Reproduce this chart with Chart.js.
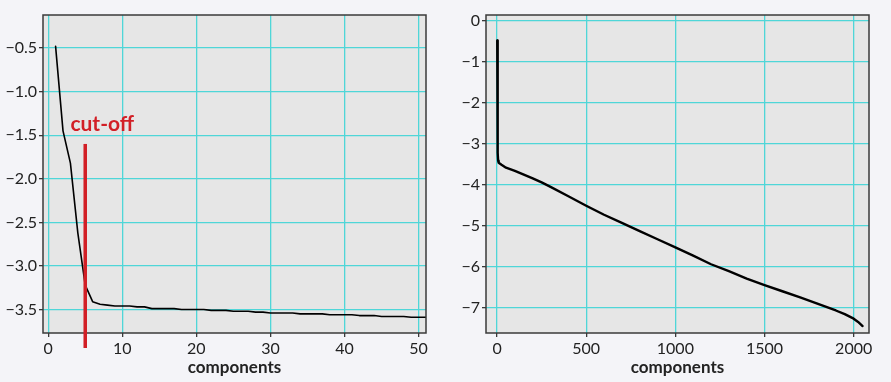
<!DOCTYPE html>
<html>
<head>
<meta charset="utf-8">
<script src="https://cdn.jsdelivr.net/npm/chart.js@4"></script>
<style>
    body { margin: 0; background: #f4f4f8; }
    .box { position: absolute; top: 0; height: 382px; }
</style>
</head>
<body>
<div class="box" style="left:0;width:445px"><canvas id="leftChart" width="445" height="382"></canvas></div>
<div class="box" style="left:445px;width:446px"><canvas id="rightChart" width="446" height="382"></canvas></div>
<script>
// left panel: first 51 components
let leftX = [1,2,3,4,5,6,7,8,9,10,11,12,13,14,15,16,17,18,19,20,21,22,23,24,25,26,27,28,29,30,
    31,32,33,34,35,36,37,38,39,40,41,42,43,44,45,46,47,48,49,50,51];
let leftY = [-0.48,-1.45,-1.82,-2.62,-3.22,-3.41,-3.44,-3.45,-3.46,-3.46,-3.46,-3.47,-3.47,-3.49,-3.49,
    -3.49,-3.49,-3.50,-3.50,-3.50,-3.50,-3.51,-3.51,-3.51,-3.52,-3.52,-3.52,-3.53,-3.53,-3.54,
    -3.54,-3.54,-3.54,-3.55,-3.55,-3.55,-3.55,-3.56,-3.56,-3.56,-3.56,-3.57,-3.57,-3.57,-3.58,
    -3.58,-3.58,-3.58,-3.59,-3.59,-3.59];

// right panel: all components
let rightX = [1,2,3,4,5,6,8,10,25,50,100,150,200,250,300,400,500,600,700,800,900,1000,
    1100,1200,1300,1400,1500,1600,1700,1800,1900,1950,2000,2025,2050];
let rightY = [-0.47,-1.45,-1.82,-2.62,-3.22,-3.41,-3.45,-3.46,-3.51,-3.58,-3.66,-3.75,-3.84,-3.94,-4.05,
    -4.28,-4.51,-4.73,-4.93,-5.13,-5.33,-5.53,-5.73,-5.94,-6.11,-6.29,-6.45,-6.60,-6.75,-6.91,
    -7.07,-7.16,-7.27,-7.35,-7.45];

let leftXTicks = [0,10,20,30,40,50];
let leftYTicks = [-3.5,-3.0,-2.5,-2.0,-1.5,-1.0,-0.5];
let rightXTicks = [0,500,1000,1500,2000];
let rightYTicks = [-7,-6,-5,-4,-3,-2,-1,0];

let cutoff = 5;

const FONT = "Lato, 'Noto Sans', sans-serif";

function minus(s) {
    return String(s).replace("-", "\u2212");
}

const frame = {
    id: "frame",
    beforeDraw(chart) {
        const a = chart.chartArea;
        const ctx = chart.ctx;
        ctx.save();
        ctx.fillStyle = "#e6e6e6";
        ctx.fillRect(a.left, a.top, a.right - a.left, a.bottom - a.top);
        ctx.restore();
    },
    afterDraw(chart) {
        const a = chart.chartArea;
        const ctx = chart.ctx;
        ctx.save();
        ctx.strokeStyle = "#3a3a3a";
        ctx.lineWidth = 1.5;
        ctx.strokeRect(a.left, a.top, a.right - a.left, a.bottom - a.top);
        ctx.restore();
    }
};

const cutoffMark = {
    id: "cutoffMark",
    afterDraw(chart) {
        const x = chart.scales.x;
        const y = chart.scales.y;
        const ctx = chart.ctx;
        const px = x.getPixelForValue(cutoff);
        ctx.save();
        ctx.strokeStyle = "#d21f26";
        ctx.lineWidth = 3.5;
        ctx.beginPath();
        ctx.moveTo(px, y.getPixelForValue(-1.6));
        ctx.lineTo(px, chart.chartArea.bottom + 15);
        ctx.stroke();
        ctx.fillStyle = "#d21f26";
        ctx.font = "bold 21px " + FONT;
        ctx.textAlign = "center";
        ctx.textBaseline = "middle";
        ctx.fillText("cut-off", x.getPixelForValue(7.3), y.getPixelForValue(-1.37));
        ctx.restore();
    }
};

function makeChart(id, xs, ys, opts) {
    const ctx = document.getElementById(id).getContext("2d");
    return new Chart(ctx, {
        type: "line",
        data: {
            datasets: [{
                data: xs.map((v, i) => ({ x: v, y: ys[i] })),
                borderColor: "#000",
                borderWidth: opts.lineWidth,
                borderJoinStyle: "round",
                borderCapStyle: "round",
                pointRadius: 0,
                tension: 0
            }]
        },
        options: {
            responsive: false,
            animation: false,
            layout: { padding: { top: 15, right: opts.padRight, bottom: 0, left: 0 } },
            plugins: { legend: { display: false }, tooltip: { enabled: false } },
            scales: {
                x: {
                    type: "linear",
                    min: opts.xMin,
                    max: opts.xMax,
                    afterBuildTicks: s => { s.ticks = opts.xTicks.map(v => ({ value: v })); },
                    afterFit: s => { s.height = 49; },
                    grid: { color: "#4fd6d8", lineWidth: 1.3, tickColor: "#3a3a3a", tickLength: 4 },
                    border: { display: false },
                    ticks: {
                        color: "#222",
                        font: { family: FONT, size: 16 },
                        padding: 2,
                        maxRotation: 0,
                        callback: v => minus(v)
                    },
                    title: {
                        display: true,
                        text: "components",
                        color: "#222",
                        font: { family: FONT, size: 17, weight: "bold" },
                        padding: { top: 0, bottom: 4 }
                    }
                },
                y: {
                    min: opts.yMin,
                    max: opts.yMax,
                    afterBuildTicks: s => { s.ticks = opts.yTicks.map(v => ({ value: v })); },
                    afterFit: s => { s.width = opts.yWidth; },
                    grid: { color: "#4fd6d8", lineWidth: 1.3, tickColor: "#3a3a3a", tickLength: 4 },
                    border: { display: false },
                    ticks: {
                        color: "#222",
                        font: { family: FONT, size: 16 },
                        padding: 2,
                        callback: v => minus(opts.yDigits ? Number(v).toFixed(opts.yDigits) : v)
                    }
                }
            }
        },
        plugins: opts.plugins
    });
}

var leftChart = makeChart("leftChart", leftX, leftY, {
    xMin: -0.7, xMax: 51, yMin: -3.77, yMax: -0.12,
    xTicks: leftXTicks, yTicks: leftYTicks, yDigits: 1,
    yWidth: 43, padRight: 19, lineWidth: 1.6,
    plugins: [frame, cutoffMark]
});

var rightChart = makeChart("rightChart", rightX, rightY, {
    xMin: -62, xMax: 2086, yMin: -7.62, yMax: 0.15,
    xTicks: rightXTicks, yTicks: rightYTicks, yDigits: 0,
    yWidth: 41, padRight: 22, lineWidth: 2.4,
    plugins: [frame]
});
</script>
</body>
</html>
